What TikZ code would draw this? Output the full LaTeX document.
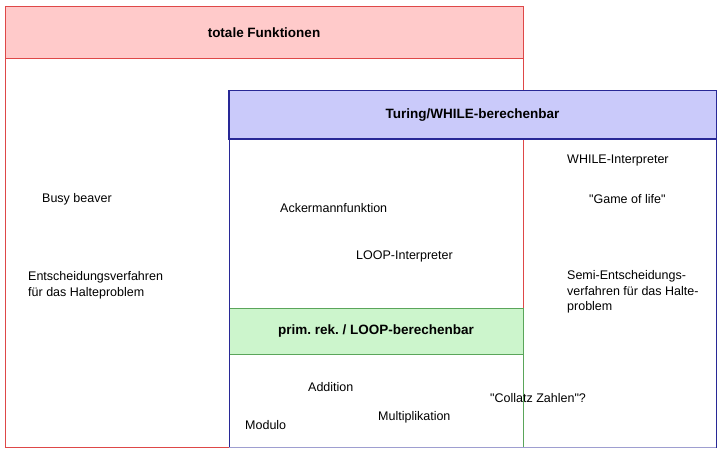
\documentclass[tikz,border=0pt]{standalone}
\usepackage{fontspec}
\setmainfont{Liberation Sans}
\frenchspacing
\definecolor{redline}{RGB}{222,72,72}
\definecolor{pinkfill}{RGB}{255,202,202}
\definecolor{blueline}{RGB}{40,40,150}
\definecolor{bluefill}{RGB}{202,202,250}
\definecolor{greenline}{RGB}{90,165,90}
\definecolor{greenfill}{RGB}{204,245,204}
\begin{document}
\begin{tikzpicture}[x=1pt,y=-1pt,
  hdr/.style={rectangle, inner sep=0pt, line width=1pt, font=\fontsize{13.5}{16}\selectfont\bfseries},
  lbl/.style={anchor=base west, inner sep=0pt, font=\fontsize{12.5}{15.5}\selectfont, align=left},
  box/.style={line width=1pt}]
\useasboundingbox (0,0) rectangle (725,454);
% total functions
\draw[box, draw=redline] (5,7) rectangle (523,447);
\node[hdr, fill=pinkfill, draw=redline, minimum width=518pt, minimum height=52pt] (totalhdr) at (264,33) {totale Funktionen};
% Turing header
\node[hdr, fill=bluefill, draw=blueline, minimum width=487pt, minimum height=48pt] (turinghdr) at (472.5,115) {Turing/WHILE-berechenbar};
% prim rek
\draw[box, draw=greenline] (229,308) rectangle (523,447);
\node[hdr, fill=greenfill, draw=greenline, minimum width=294pt, minimum height=46pt] (loophdr) at (376,331) {prim. rek. / LOOP-berechenbar};
% Turing box border
\draw[box, draw=blueline] (229,91) rectangle (716,447);
\draw[line width=1pt, draw=blueline] (turinghdr.north west) rectangle (turinghdr.south east);
\draw[line width=0.8pt, draw=blueline!45] (229,447) -- (716,447);
% labels
\node[lbl] (busy) at (42,202.5) {Busy beaver};
\node[lbl] (entsch) at (28,296) {Entscheidungsverfahren\\für das Halteproblem};
\node[lbl] (acker) at (280,212.7) {Ackermannfunktion};
\node[lbl] (loopint) at (356,259) {LOOP-Interpreter};
\node[lbl] (whileint) at (567,164) {WHILE-Interpreter};
\node[lbl] (game) at (589,203.3) {\textquotedbl Game of life\textquotedbl};
\node[lbl] (semi) at (567,310.5) {Semi-Entscheidungs-\\verfahren für das Halte-\\problem};
\node[lbl] (add) at (308,391.7) {Addition};
\node[lbl] (mult) at (378,420) {Multiplikation};
\node[lbl] (mod) at (245,429.3) {Modulo};
\node[lbl] (collatz) at (490,402.3) {\textquotedbl Collatz Zahlen\textquotedbl ?};
\end{tikzpicture}
\end{document}
